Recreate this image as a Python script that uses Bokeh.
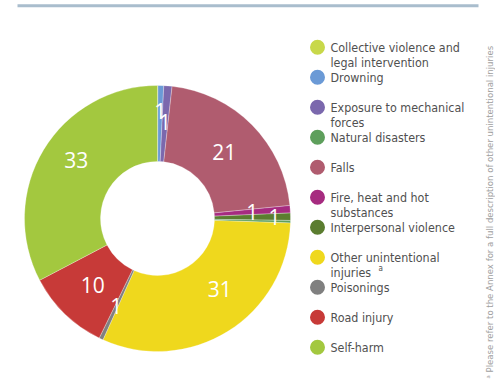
import math
from bokeh.plotting import figure
from bokeh.models import Range1d
from bokeh.core.properties import value
from bokeh.embed import file_html
from bokeh.resources import INLINE

# ---- data (pie order, clockwise from 12 o'clock) ----
categories = ["Collective violence and legal intervention", "Drowning",
              "Exposure to mechanical forces", "Falls",
              "Fire, heat and hot substances", "Interpersonal violence",
              "Natural disasters", "Other unintentional injuries",
              "Poisonings", "Road injury", "Self-harm"]
shares = [0.05, 0.7, 1.0, 21.7, 0.9, 0.9, 0.3, 31.2, 0.5, 10.1, 32.7]
value_labels = ["", "1", "1", "21", "1", "1", "", "31", "1", "10", "33"]
colors = ["#c8d84a", "#6b9ad6", "#7b68ad", "#b05c6f", "#a62b80", "#5b7d30",
          "#5e9f5c", "#efd81d", "#808080", "#c73a38", "#a3c83f"]

# ---- legend (as printed) ----
legend_order = ["Collective violence and legal intervention", "Drowning",
                "Exposure to mechanical forces", "Natural disasters", "Falls",
                "Fire, heat and hot substances", "Interpersonal violence",
                "Other unintentional injuries", "Poisonings", "Road injury",
                "Self-harm"]
legend_text = {
    "Collective violence and legal intervention": ["Collective violence and", "legal intervention"],
    "Exposure to mechanical forces": ["Exposure to mechanical", "forces"],
    "Fire, heat and hot substances": ["Fire, heat and hot", "substances"],
    "Other unintentional injuries": ["Other unintentional", "injuries"],
}
footnote = "\u1d43 Please refer to the Annex for a full description of other unintentional injuries"

# ---- layout (screen px) ----
W, H = 495, 383
def Y(img_y):
    return H - img_y
def X(img_x):
    return img_x

cx, cy = X(157), Y(218)
r_out, r_in = 133, 57
label_place = {1: (108, 0), 2: (97, 0), 3: (94, 0), 4: (95, 0), 5: (117, 0),
               7: (94, -9.5), 8: (97, 0), 9: (93, 0), 10: (100, 4.6)}

p = figure(width=W, height=H, output_backend="svg", toolbar_location=None,
           x_range=Range1d(0, W), y_range=Range1d(0, H), min_border=0)
p.axis.visible = False
p.grid.visible = False
p.outline_line_color = None
p.background_fill_color = "white"

# top rule
p.segment(x0=[X(17)], y0=[Y(5.3)], x1=[X(478)], y1=[Y(5.3)],
          line_color="#a9bdcd", line_width=3)

total = sum(shares)
cum = 0.0
starts, ends, lx, ly, lt = [], [], [], [], []
for i, s in enumerate(shares):
    t1 = cum / total * 360.0
    t2 = (cum + s) / total * 360.0
    cum += s
    starts.append(math.radians(90 - t2))
    ends.append(math.radians(90 - t1))
    if value_labels[i]:
        rr, shift = label_place.get(i, (95, 0))
        mid = math.radians(90 - ((t1 + t2) / 2 + shift))
        lx.append(cx + rr * math.cos(mid))
        ly.append(cy + rr * math.sin(mid))
        lt.append(value_labels[i])

p.annular_wedge(x=cx, y=cy, inner_radius=r_in, outer_radius=r_out,
                start_angle=starts, end_angle=ends, fill_color=colors,
                line_color="white", line_width=0.4, line_alpha=0.7)

p.text(x=lx, y=ly, text=lt, text_color="white", text_font=value("Open Sans"),
       text_font_size="21px", text_align="center", text_baseline="middle")

# legend
font_legend = value("DejaVu Sans Condensed, Roboto, sans-serif")
cx_leg, tx_leg = X(317), X(330)
y0 = 46.7
gx, gy, gc, tx, ty, tt = [], [], [], [], [], []
for k, name in enumerate(legend_order):
    yy = y0 + k * 30.0
    gx.append(cx_leg); gy.append(Y(yy)); gc.append(colors[categories.index(name)])
    lines = legend_text.get(name, [name])
    for j, line in enumerate(lines):
        tx.append(tx_leg); ty.append(Y(yy + j * 15.0)); tt.append(line)
p.scatter(x=gx, y=gy, size=15, marker="circle", fill_color=gc, line_color=None)
p.text(x=tx, y=ty, text=tt, text_color="#505050", text_font=font_legend,
       text_font_size="12.4px", text_baseline="middle", text_align="left")
p.text(x=[X(378)], y=[Y(268)], text=["a"], text_color="#505050",
       text_font=font_legend, text_font_size="8px", text_baseline="middle")

# vertical footnote
p.text(x=[X(489)], y=[Y(378)], text=[footnote], angle=math.pi / 2,
       text_color="#a0a0a0", text_font=font_legend, text_font_size="9.5px",
       text_baseline="middle", text_align="left")

open("out.html", "w").write(file_html(p, INLINE))
